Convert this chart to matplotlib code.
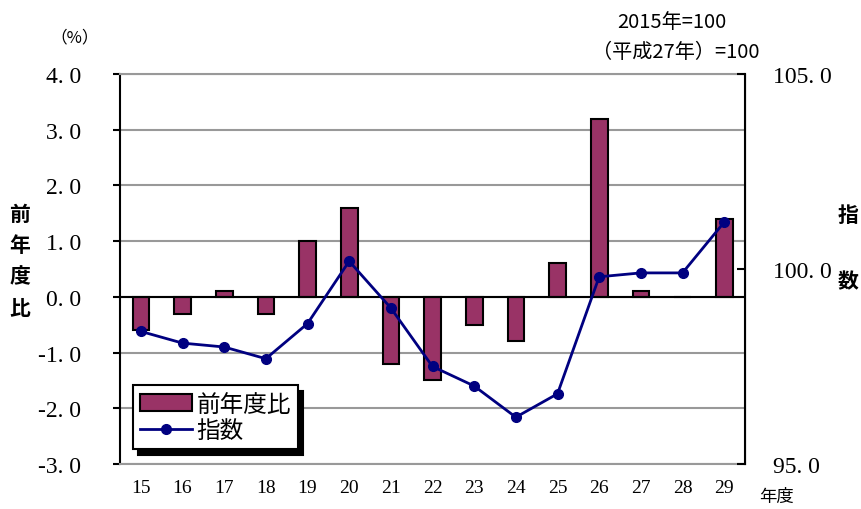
import matplotlib
matplotlib.use('Agg')
import matplotlib.pyplot as plt
from matplotlib.ticker import FixedLocator, FuncFormatter

plt.rcParams['font.family'] = ['Noto Sans CJK JP', 'DejaVu Sans']

# データ
years = ['15', '16', '17', '18', '19', '20', '21', '22', '23', '24', '25', '26', '27', '28', '29']
yoy = [-0.6, -0.3, 0.1, -0.3, 1.0, 1.6, -1.2, -1.5, -0.5, -0.8, 0.6, 3.2, 0.1, 0.0, 1.4]
index = [98.4, 98.1, 98.0, 97.7, 98.6, 100.2, 99.0, 97.5, 97.0, 96.2, 96.8, 99.8, 99.9, 99.9, 101.2]

bar_color = '#993366'
line_color = '#000080'
serif = 'Liberation Serif'


def fmt(v, p):
    # 目盛りラベル "4. 0" 形式
    return ('%.1f' % v).replace('.', '. ')


fig = plt.figure(figsize=(8.61, 5.10), dpi=100)
ax = fig.add_axes([120 / 861, 45 / 510, 625 / 861, 390 / 510])
ax2 = ax.twinx()

x = list(range(len(years)))
bars = ax.bar(x, yoy, width=0.4, color=bar_color, edgecolor='black', linewidth=1.5, zorder=3, label='前年度比')
ax.axhline(0, color='black', linewidth=1.5, zorder=4)
ax.set_xlim(-0.5, len(years) - 0.5)
ax.set_ylim(-3, 4)
ax.set_yticks([-3, -2, -1, 0, 1, 2, 3, 4])
ax.yaxis.set_major_formatter(FuncFormatter(fmt))
ax.grid(axis='y', color='#999999', linewidth=1.5, zorder=0)
ax.set_axisbelow(True)
ax.set_xticks(x)
ax.set_xticklabels(years)
ax.tick_params(axis='x', length=0, pad=11)
ax.tick_params(axis='y', direction='out', length=5, width=1.5, pad=23)
for lab in ax.get_xticklabels():
    lab.set_fontfamily(serif)
    lab.set_fontsize(14)
for lab in ax.get_yticklabels():
    lab.set_fontfamily(serif)
    lab.set_fontsize(17)

ax.spines['left'].set_linewidth(1.5)
ax.spines['top'].set_color('#999999')
ax.spines['bottom'].set_color('#999999')
ax.spines['top'].set_linewidth(1.5)
ax.spines['bottom'].set_linewidth(1.5)

ln, = ax2.plot(x, index, color=line_color, linewidth=2, marker='o', markersize=7, zorder=5, label='指数')
ax2.set_ylim(95, 105)
ax2.yaxis.set_major_locator(FixedLocator([95, 100, 105]))
ax2.yaxis.set_major_formatter(FuncFormatter(fmt))
ax2.tick_params(axis='y', direction='in', length=6, width=1.5, pad=20)
for lab in ax2.get_yticklabels():
    lab.set_fontfamily(serif)
    lab.set_fontsize(17)
ax2.spines['right'].set_linewidth(1.5)
ax2.spines['left'].set_visible(False)
ax2.spines['top'].set_visible(False)
ax2.spines['bottom'].set_visible(False)

leg = ax.legend([bars, ln], ['前年度比', '指数'], loc='lower left', bbox_to_anchor=(0.02, 0.038),
                borderaxespad=0, fontsize=17, handlelength=2.2, handletextpad=0.2,
                labelspacing=0.15, borderpad=0.3, fancybox=False,
                shadow={'color': 'black', 'alpha': 1, 'ox': 4, 'oy': -4})
leg.get_frame().set_edgecolor('black')
leg.get_frame().set_linewidth(1.5)
leg.set_zorder(10)

# ラベル
for i, ch in enumerate('前年度比'):
    fig.text(20 / 861, 1 - (214 + 31.5 * i) / 510, ch, fontsize=15, fontweight='bold', ha='center', va='center')
for ch, yy in zip('指数', [215, 282]):
    fig.text(848 / 861, 1 - yy / 510, ch, fontsize=15, fontweight='bold', ha='center', va='center')
fig.text(75 / 861, 1 - 38 / 510, '（%）', fontsize=12, ha='center', va='center')
fig.text(672 / 861, 1 - 23 / 510, '2015年=100', fontsize=14.5, ha='center', va='center')
fig.text(676 / 861, 1 - 53 / 510, '（平成27年）=100', fontsize=14.5, ha='center', va='center')
fig.text(776 / 861, 1 - 497 / 510, '年度', fontsize=12.5, ha='center', va='center')

plt.savefig('out.png', dpi=100)
